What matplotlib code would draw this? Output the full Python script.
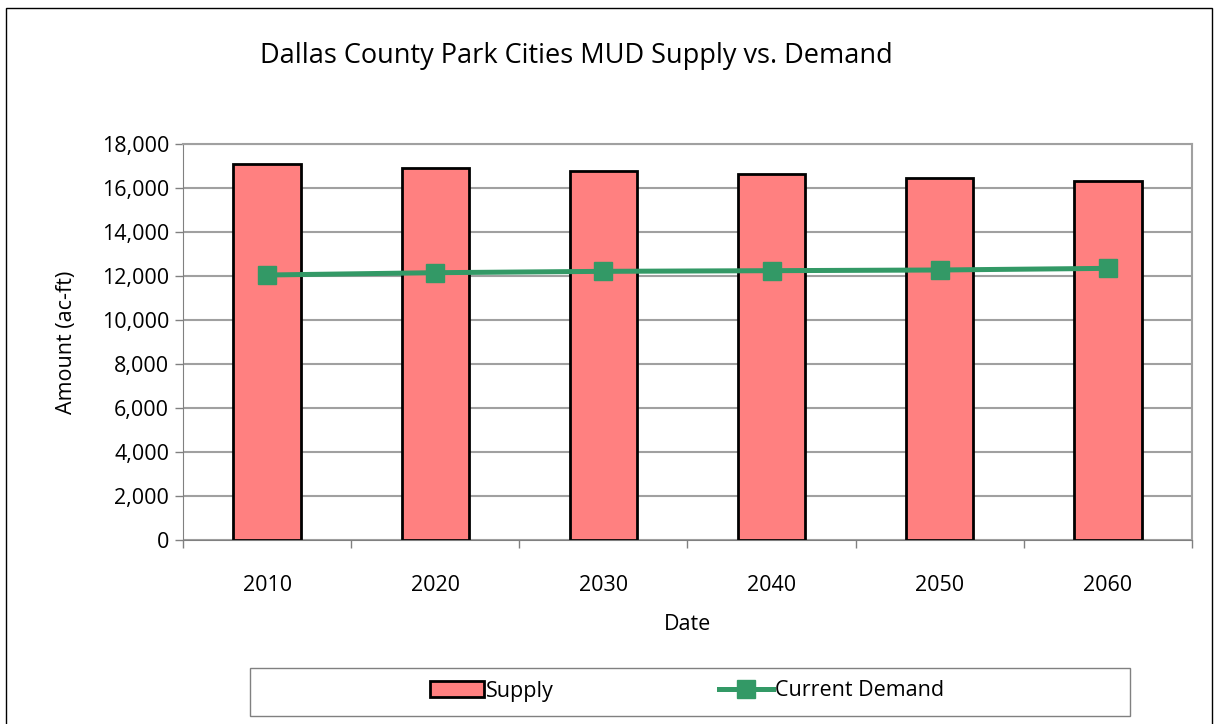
import matplotlib

matplotlib.use("Agg")

import matplotlib.pyplot as plt
from matplotlib.patches import Rectangle
from matplotlib.ticker import FuncFormatter, FixedLocator


YEARS = ["2010", "2020", "2030", "2040", "2050", "2060"]
SUPPLY = [17077, 16909, 16758, 16621, 16470, 16318]
DEMAND = [12045, 12150, 12212, 12242, 12273, 12348]

BAR_COLOR = "#FF8080"
LINE_COLOR = "#339966"
W, H = 1219, 724

plt.rcParams["font.family"] = ["Open Sans", "DejaVu Sans"]

fig = plt.figure(figsize=(W / 100, H / 100), dpi=100)
ax = fig.add_axes([183 / W, 1 - 540 / H, (1192 - 183) / W, (540 - 144) / H])

x = list(range(len(YEARS)))
bars = ax.bar(x, SUPPLY, width=0.4, color=BAR_COLOR, edgecolor="black", linewidth=2,
              label="Supply", zorder=2)
line, = ax.plot(x, DEMAND, color=LINE_COLOR, linewidth=3.6, marker="s", markersize=13,
                label="Current Demand", zorder=3)

ax.set_xlim(-0.5, len(YEARS) - 0.5)
ax.set_ylim(0, 18000)
ax.set_yticks(range(0, 18001, 2000))
ax.yaxis.set_major_formatter(FuncFormatter(lambda v, p: f"{int(v):,}"))
ax.grid(axis="y", color="#A0A0A0", linewidth=1.5, zorder=0)
ax.set_axisbelow(True)

# category labels centred, tick marks between categories
ax.xaxis.set_major_locator(FixedLocator([i - 0.5 for i in range(len(YEARS) + 1)]))
ax.xaxis.set_minor_locator(FixedLocator(x))
ax.set_xticklabels([])
ax.set_xticklabels(YEARS, minor=True)
ax.tick_params(axis="x", which="major", length=6, width=1, color="#808080", direction="out")
ax.tick_params(axis="x", which="minor", length=0, labelsize=15.5, pad=25)
ax.tick_params(axis="y", length=6, width=1, color="#808080", direction="out", labelsize=15.5, pad=4)

for side in ["top", "right"]:
    ax.spines[side].set_color("#A0A0A0")
    ax.spines[side].set_linewidth(1.5)
ax.spines["left"].set_color("#808080")
ax.spines["bottom"].set_color("#808080")

ax.set_xlabel("Date", fontsize=15.5, labelpad=13)
ax.set_ylabel("Amount (ac-ft)", fontsize=15.5, labelpad=18)

fig.text(576 / W, 1 - 56 / H, "Dallas County Park Cities MUD Supply vs. Demand",
         ha="center", va="center", fontsize=19.5)

# legend box
fig.add_artist(Rectangle((250 / W, 1 - 716 / H), 880 / W, 48 / H, transform=fig.transFigure,
                         fill=False, edgecolor="#808080", linewidth=1))
fig.legend([bars, line], ["Supply", "Current Demand"], loc="center",
           bbox_to_anchor=(687 / W, 1 - 691 / H), ncol=2, frameon=False,
           fontsize=15.5, columnspacing=7.7, handlelength=2.5, handletextpad=0.1)

# outer chart border
fig.add_artist(Rectangle((6 / W, -0.05), (1212 - 6) / W, 1.05 - 8 / H, transform=fig.transFigure,
                         fill=False, edgecolor="black", linewidth=1))

fig.savefig("out.png", dpi=100)
